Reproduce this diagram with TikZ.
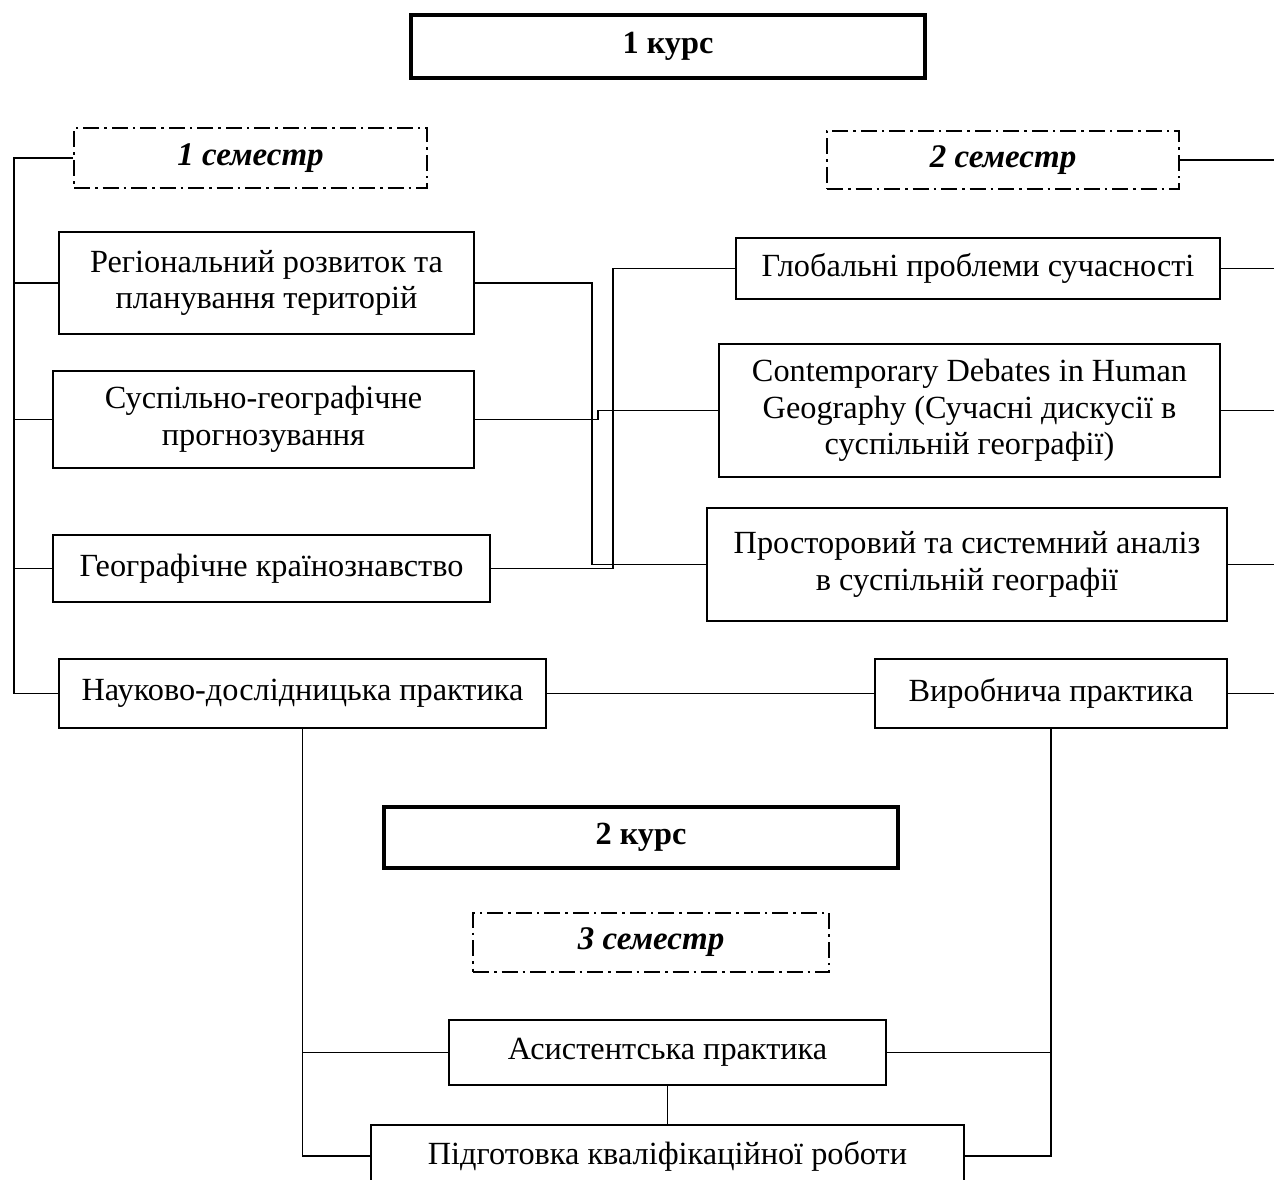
\documentclass[tikz,border=0pt]{standalone}
\usepackage{fontspec}
\setmainfont{Liberation Serif}
\begin{document}
\begin{tikzpicture}[x=1pt,y=-1pt,
  box/.style={draw, line width=1.6pt, inner sep=0pt, align=center,
    font=\fontsize{32.3}{36.5}\selectfont},
  course/.style={draw, line width=3.5pt, inner sep=0pt,
    font=\fontsize{32.3}{36.5}\selectfont\bfseries},
  sem/.style={draw, line width=2pt, inner sep=0pt,
    dash pattern=on 16pt off 5pt on 2.5pt off 5pt,
    font=\fontsize{33}{37}\selectfont\bfseries\itshape},
  conn/.style={line width=1.8pt}]
\useasboundingbox (0,0) rectangle (1274,1180);
\coordinate (L) at (14,0);
\coordinate (R) at (1274,0);
% headers
\node[course, minimum width=514pt, minimum height=63pt] (k1) at (668,46.5) {1 курс};
\node[sem, minimum width=353pt, minimum height=60pt] (s1) at (250.5,158) {1 семестр};
\node[sem, minimum width=352pt, minimum height=58pt] (s2) at (1003,160) {2 семестр};
% left column
\node[box, minimum width=415pt, minimum height=102pt] (reg) at (266.5,283) {Регіональний розвиток та\\планування територій};
\node[box, minimum width=421pt, minimum height=97pt] (susp) at (263.5,419.5) {Суспільно-географічне\\прогнозування};
\node[box, minimum width=437pt, minimum height=67pt] (geo) at (271.5,568.5) {Географічне країнознавство};
\node[box, minimum width=487pt, minimum height=69pt] (nauk) at (302.5,693.5) {Науково-дослідницька практика};
% right column
\node[box, minimum width=484pt, minimum height=61pt] (glob) at (978,268.5) {Глобальні проблеми сучасності};
\node[box, minimum width=501pt, minimum height=133pt] (cont) at (969.5,410.5) {Contemporary Debates in Human\\Geography (Сучасні дискусії в\\суспільній географії)};
\node[box, minimum width=520pt, minimum height=113pt] (prost) at (967,564.5) {Просторовий та системний аналіз\\в суспільній географії};
\node[box, minimum width=352pt, minimum height=69pt] (vyr) at (1051,693.5) {Виробнича практика};
% second course
\node[course, minimum width=514pt, minimum height=61pt] (k2) at (641,837.5) {2 курс};
\node[sem, minimum width=356pt, minimum height=59pt] (s3) at (651,942.5) {3 семестр};
\node[box, minimum width=437pt, minimum height=65pt] (asyst) at (667.5,1052.5) {Асистентська практика};
\node[box, minimum width=593pt, minimum height=62pt] (pidg) at (667.5,1156) {Підготовка кваліфікаційної роботи};
% left bus
\draw[conn] (s1.west) -| (nauk.west -| L) -- (nauk.west);
\draw[conn] (reg.west) -- (reg.west -| L);
\draw[conn] (susp.west) -- (susp.west -| L);
\draw[conn] (geo.west) -- (geo.west -| L);
% right stubs
\draw[conn] (s2.east) -- (s2.east -| R);
\draw[conn] (glob.east) -- (glob.east -| R);
\draw[conn] (cont.east) -- (cont.east -| R);
\draw[conn] (prost.east) -- (prost.east -| R);
\draw[conn] (vyr.east) -- (vyr.east -| R);
% crossing connectors
\draw[conn] (reg.east) -- ++(117,0) |- (prost.west);
\draw[conn] (susp.east) -- ++(123,0) |- (cont.west);
\draw[conn] (geo.east) -- ++(122,0) |- (glob.west);
% practice links
\draw[conn] (nauk.east) -- (vyr.west);
\draw[conn] (nauk.south) |- (asyst.west);
\draw[conn] (nauk.south) |- (pidg.west);
\draw[conn] (vyr.south) |- (asyst.east);
\draw[conn] (vyr.south) |- (pidg.east);
\draw[conn] (asyst.south) -- (pidg.north);
\end{tikzpicture}
\end{document}
